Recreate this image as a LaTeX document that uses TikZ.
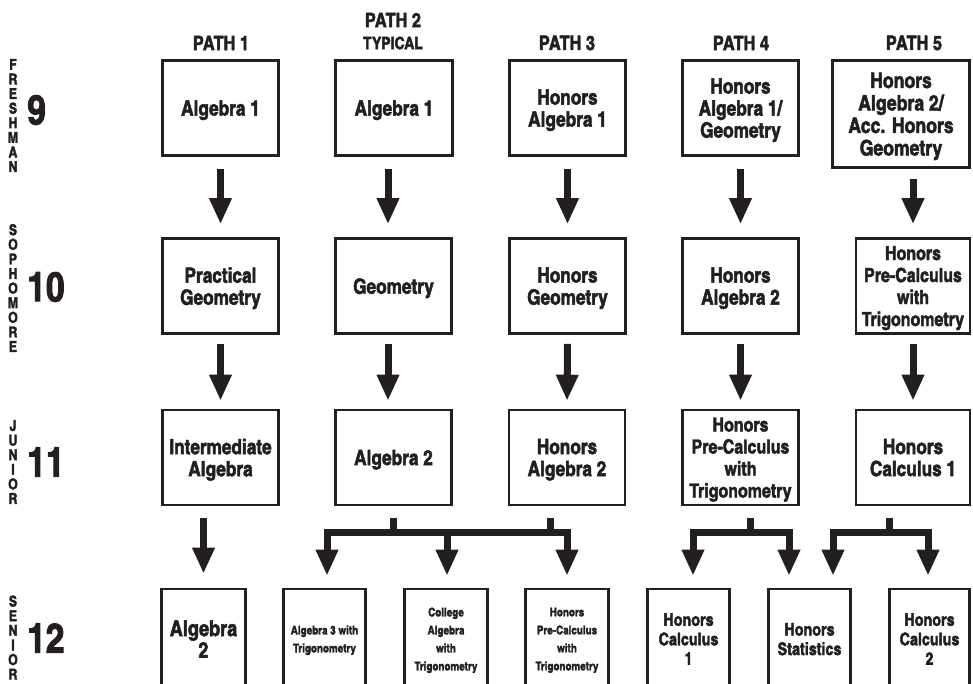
\documentclass[tikz,border=0pt]{standalone}
\usepackage{fontspec}
\setmainfont{texgyreheroscn-bold.otf}[FakeBold=2.2]
\usetikzlibrary{arrows.meta,calc}
\definecolor{ink}{HTML}{231F20}
\newcommand\fsz[2]{\fontsize{#1}{#2}\selectfont}
\begin{document}
\begin{tikzpicture}[x=1pt,y=-1pt,
  box/.style={draw=ink, line width=2.6pt, align=center, inner sep=0pt, text=ink,
    minimum width=116pt, minimum height=95pt, text depth=0pt, font=\fsz{21}{22}},
  lowbox/.style={box, minimum height=100pt},
  arr/.style={draw=ink, line width=7pt, -{Triangle[width=21pt,length=26pt]}},
  stem/.style={draw=ink, line width=7pt},
  vlab/.style={align=center, inner sep=0pt, text=ink, font=\fsz{15}{14.6}},
  grade/.style={anchor=west, inner sep=0pt, text=ink, font=\fsz{41}{41}},
  path/.style={inner sep=0pt, text=ink, font=\fsz{20}{20}}
]
\useasboundingbox (0,0) rectangle (973,684);
\clip (0,0) rectangle (973,684);

% grade labels
\node[vlab] (fr) at (13,115.5) {F\\R\\E\\S\\H\\M\\A\\N};
\node[vlab] (so) at (13,288) {S\\O\\P\\H\\O\\M\\O\\R\\E};
\node[vlab] (ju) at (13,462) {J\\U\\N\\I\\O\\R};
\node[vlab] (se) at (13,637.5) {S\\E\\N\\I\\O\\R};
\node[grade] (g9) at (27,110) {9};
\node[grade] (g10) at (27,287) {10};
\node[grade] (g11) at (27,462) {11};
\node[grade] (g12) at (27,638) {12};

% path headers
\node[path] (h1) at (221,43) {PATH 1};
\node[path] (h2) at (393,20) {PATH 2};
\node[path, font=\fsz{17}{17}] (h2t) at (393,43) {TYPICAL};
\node[path] (h3) at (567,43) {PATH 3};
\node[path] (h4) at (741,43) {PATH 4};
\node[path] (h5) at (914,43) {PATH 5};

% row 1
\node[box] (a1) at (220.5,108) {Algebra 1};
\node[box, minimum width=117pt] (a2) at (394,108) {Algebra 1};
\node[box] (a3) at (567.5,108) {Honors\\Algebra 1};
\node[box] (a4) at (740.5,108) {Honors\\Algebra 1/\\Geometry};
\node[box, minimum width=137pt, minimum height=107pt, font=\fsz{21.5}{22.5}] (a5) at (901,114) {Honors\\Algebra 2/\\Acc. Honors\\Geometry};

% row 2
\node[box] (b1) at (220.5,286) {Practical\\Geometry};
\node[box] (b2) at (393.5,286) {Geometry};
\node[box] (b3) at (567.5,286) {Honors\\Geometry};
\node[box] (b4) at (740.5,286) {Honors\\Algebra 2};
\node[box, minimum width=114pt, font=\fsz{19.5}{22}] (b5) at (913,286) {Honors\\Pre-Calculus\\with\\Trigonometry};

% row 3
\node[box] (c1) at (220.5,457.5) {Intermediate\\Algebra};
\node[box] (c2) at (393.5,457.5) {Algebra 2};
\node[box] (c3) at (567,457.5) {Honors\\Algebra 2};
\node[box, font=\fsz{19.5}{22}] (c4) at (740.5,457.5) {Honors\\Pre-Calculus\\with\\Trigonometry};
\node[box, minimum width=114pt] (c5) at (913,457.5) {Honors\\Calculus 1};

% row 4
\node[lowbox, minimum width=84pt, font=\fsz{22}{21.7}] (d1) at (203.5,639) {Algebra\\2};
\node[lowbox, minimum width=82pt, font=\fsz{12}{18}] (d2) at (324.5,639) {Algebra 3 with\\Trigonometry};
\node[lowbox, minimum width=83pt, font=\fsz{12}{18}] (d3) at (446,639) {College\\Algebra\\with\\Trigonometry};
\node[lowbox, minimum width=83pt, font=\fsz{12}{18}] (d4) at (567,639) {Honors\\Pre-Calculus\\with\\Trigonometry};
\node[lowbox, minimum width=82pt, font=\fsz{17.5}{19.5}] (d5) at (688.5,639) {Honors\\Calculus\\1};
\node[lowbox, minimum width=82pt, font=\fsz{17.5}{19.5}] (d6) at (809.5,639) {Honors\\Statistics};
\node[lowbox, minimum width=80pt, font=\fsz{17.5}{19.5}] (d7) at (929.5,639) {Honors\\Calculus\\2};

% straight arrows
\draw[arr, shorten <=12pt, shorten >=13pt] (a1.south) -- (b1.north);
\draw[arr, shorten <=12pt, shorten >=13pt] ([xshift=-6pt]a2.south) -- ([xshift=-5.5pt]b2.north);
\draw[arr, shorten <=12pt, shorten >=13pt] (a3.south) -- (b3.north);
\draw[arr, shorten <=12pt, shorten >=13pt] (a4.south) -- (b4.north);
\draw[arr, shorten <=10pt, shorten >=13pt] (a5.south -| b5.north) -- (b5.north);

\draw[arr, shorten <=9pt, shorten >=8pt] (b1.south) -- (c1.north);
\draw[arr, shorten <=9pt, shorten >=8pt] ([xshift=-5.5pt]b2.south) -- ([xshift=-5.5pt]c2.north);
\draw[arr, shorten <=9pt, shorten >=8pt] (b3.south) -- (c3.north);
\draw[arr, shorten <=9pt, shorten >=8pt] (b4.south) -- (c4.north);
\draw[arr, shorten <=9pt, shorten >=8pt] (b5.south) -- (c5.north);

\draw[arr, shorten <=12pt, shorten >=14pt] (c1.south -| d1.north) -- (d1.north);

% branches: paths 2 and 3
\draw[arr, shorten <=12pt, shorten >=12pt] (c2.south) -- ++(0,26.5) -| ([xshift=2.5pt]d2.north);
\draw[arr, shorten >=12pt] ($(c2.south)+(0,26.5)$) -| ([xshift=1pt]d3.north);
\draw[arr, shorten >=12pt] ($(c2.south)+(0,26.5)$) -| (d4.north);
\draw[stem, shorten <=12pt] ([xshift=-17pt]c3.south) -- ++(0,26.5);

% branch: path 4
\draw[arr, shorten <=12pt, shorten >=12pt] ([xshift=9.5pt]c4.south) -- ++(0,26.5) -| ([xshift=4.5pt]d5.north);
\draw[arr, shorten >=12pt] ($(c4.south)+(9.5,26.5)$) -| ([xshift=-20.5pt]d6.north);

% branch: path 5
\draw[arr, shorten <=12pt, shorten >=12pt] ([xshift=-24pt]c5.south) -- ++(0,26.5) -| ([xshift=23.5pt]d6.north);
\draw[arr, shorten >=12pt] ($(c5.south)+(-24,26.5)$) -| ([xshift=-1.5pt]d7.north);
\end{tikzpicture}
\end{document}
